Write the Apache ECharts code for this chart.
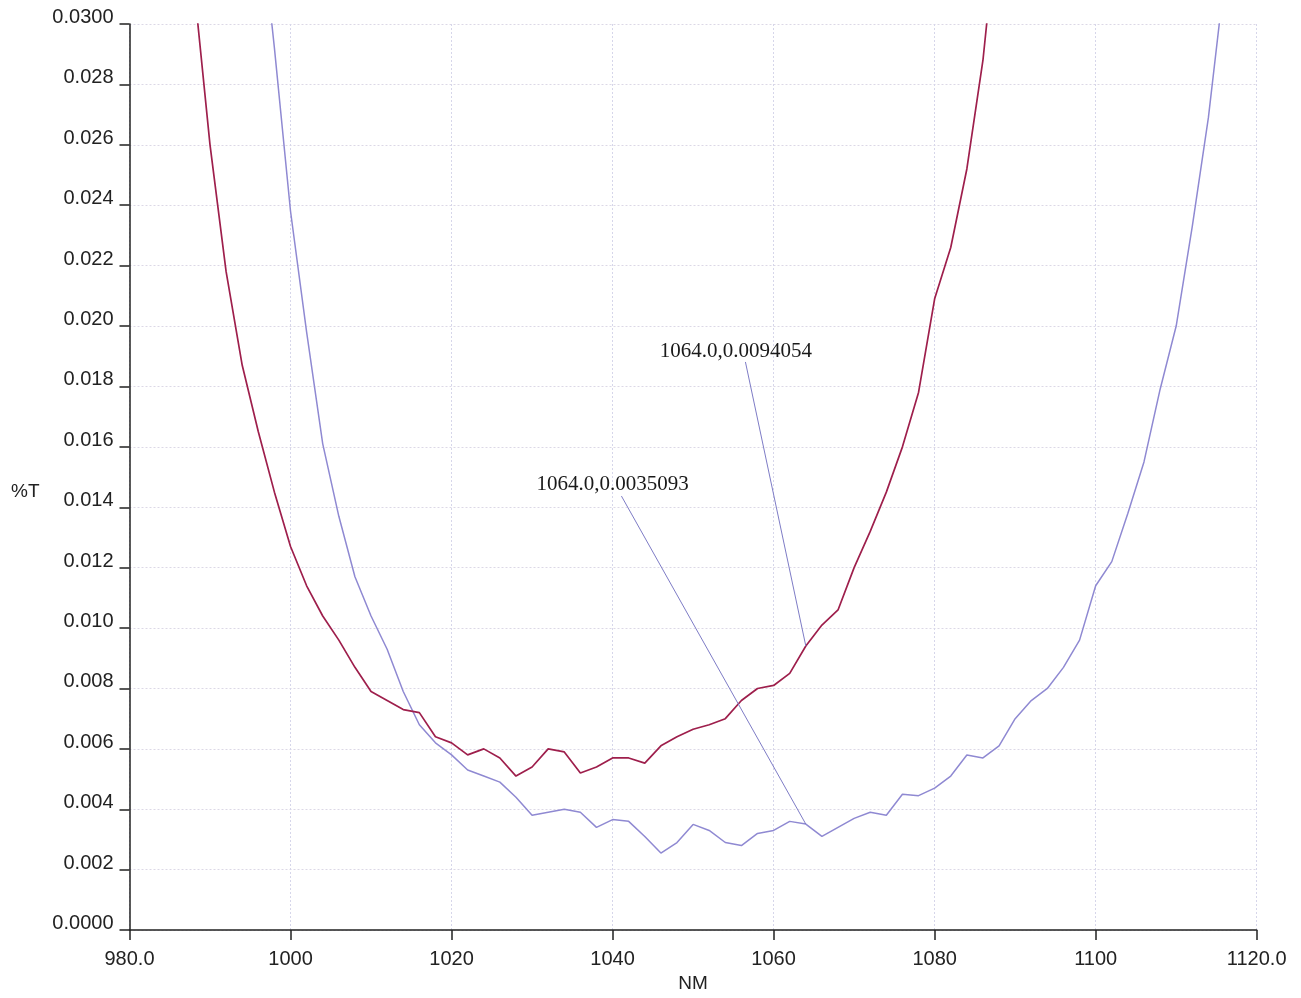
<!DOCTYPE html>
<html>
<head>
<meta charset="utf-8">
<script src="https://cdn.jsdelivr.net/npm/echarts@6/dist/echarts.min.js"></script>
<style>
html,body{margin:0;padding:0;background:#ffffff;}
#chart{width:1301px;height:998px;}
</style>
</head>
<body>
<div id="chart"></div>
<script>
// ---- data ----
const redNm = [988,990,992,994,996,998,1000,1002,1004,1006,1008,1010,1012,1014,1016,1018,1020,1022,1024,1026,1028,1030,1032,1034,1036,1038,1040,1042,1044,1046,1048,1050,1052,1054,1056,1058,1060,1062,1064,1066,1068,1070,1072,1074,1076,1078,1080,1082,1084,1086,1088];
const redT  = [0.0313,0.0260,0.0218,0.0187,0.0165,0.0145,0.0127,0.0114,0.0104,0.0096,0.0087,0.0079,0.0076,0.0073,0.0072,0.0064,0.0062,0.0058,0.0060,0.0057,0.0051,0.0054,0.0060,0.0059,0.0052,0.0054,0.0057,0.0057,0.00553,0.0061,0.0064,0.00665,0.0068,0.0070,0.0076,0.0080,0.0081,0.0085,0.0094054,0.0101,0.0106,0.0120,0.0132,0.0145,0.0160,0.0178,0.0209,0.0226,0.0252,0.0288,0.0340];
const blueNm = [996,998,1000,1002,1004,1006,1008,1010,1012,1014,1016,1018,1020,1022,1024,1026,1028,1030,1032,1034,1036,1038,1040,1042,1044,1046,1048,1050,1052,1054,1056,1058,1060,1062,1064,1066,1068,1070,1072,1074,1076,1078,1080,1082,1084,1086,1088,1090,1092,1094,1096,1098,1100,1102,1104,1106,1108,1110,1112,1114,1116];
const blueT  = [0.0342,0.0292,0.0238,0.0198,0.0161,0.0137,0.0117,0.0104,0.0093,0.0079,0.0068,0.0062,0.0058,0.0053,0.0051,0.0049,0.0044,0.0038,0.0039,0.0040,0.0039,0.0034,0.00366,0.0036,0.0031,0.00255,0.0029,0.0035,0.0033,0.0029,0.0028,0.0032,0.0033,0.0036,0.0035093,0.0031,0.0034,0.0037,0.0039,0.0038,0.0045,0.00445,0.0047,0.0051,0.0058,0.0057,0.0061,0.0070,0.0076,0.0080,0.0087,0.0096,0.0114,0.0122,0.0138,0.0155,0.0179,0.0200,0.0233,0.0269,0.0315];
const xTicks = {min: 980, max: 1120, step: 20};
const yTicks = {min: 0, max: 0.03, step: 0.002};
// annotated points [nm, %T]
const redMarked = [1064.0, 0.0094054];
const blueMarked = [1064.0, 0.0035093];

// ---- annotation placement (data units) ----
const redLabelAt = [1055.3, 0.01916], redLeaderFrom = [1056.5, 0.01881];
const blueLabelAt = [1040.0, 0.01476], blueLeaderFrom = [1041.1, 0.01437];

const zip = (a, b) => a.map((v, i) => [v, b[i]]);
const fmtPt = p => p[0].toFixed(1) + ',' + p[1].toFixed(7);

const leaderStyle = {color: '#7e7cc6', width: 1, type: 'solid'};
const annoText = {fontFamily: '"Liberation Serif", "Times New Roman", serif', fontSize: 21, color: '#1a1a1a'};

function annotation(labelAt, from, pt) {
  return {
    markLine: {
      silent: true, symbol: 'none', animation: false,
      lineStyle: leaderStyle, label: {show: false},
      data: [[{coord: from}, {coord: pt}]]
    },
    markPoint: {
      silent: true, animation: false, symbol: 'circle', symbolSize: 0,
      itemStyle: {color: 'transparent'},
      data: [{coord: labelAt, value: fmtPt(pt),
        label: Object.assign({show: true, position: 'inside', formatter: fmtPt(pt)}, annoText)}]
    }
  };
}

const chart = echarts.init(document.getElementById('chart'), null, {renderer: 'canvas'});
const axisFont = {fontFamily: '"Liberation Sans", Arial, sans-serif', fontSize: 20, color: '#222'};
chart.setOption({
  backgroundColor: '#ffffff',
  animation: false,
  grid: {left: 129.5, right: 44.3, top: 24, bottom: 66.5, containLabel: false},
  xAxis: {
    type: 'value', min: xTicks.min, max: xTicks.max, interval: xTicks.step,
    name: 'NM', nameLocation: 'middle', nameGap: 40,
    nameTextStyle: Object.assign({}, axisFont, {fontSize: 19}),
    axisLine: {show: true, onZero: false, lineStyle: {color: '#222', width: 1.5}},
    axisTick: {show: true, inside: false, length: 10, lineStyle: {color: '#222', width: 1.5}},
    axisLabel: Object.assign({}, axisFont, {margin: 19,
      formatter: v => (v === xTicks.min || v === xTicks.max) ? v.toFixed(1) : String(v)}),
    splitLine: {show: true, lineStyle: {color: '#d6d6ea', width: 1, type: [2, 2]}}
  },
  yAxis: {
    type: 'value', min: yTicks.min, max: yTicks.max, interval: yTicks.step,
    name: '%T', nameLocation: 'middle', nameRotate: 0, nameGap: 90,
    nameTextStyle: Object.assign({}, axisFont, {fontSize: 19, verticalAlign: 'top', lineHeight: 30}),
    axisLine: {show: true, onZero: false, lineStyle: {color: '#222', width: 1.5}},
    axisTick: {show: true, inside: false, length: 10, lineStyle: {color: '#222', width: 1.5}},
    axisLabel: Object.assign({}, axisFont, {margin: 16, verticalAlign: 'bottom', lineHeight: 13,
      formatter: v => {
        const r = Math.round(v * 1e6) / 1e6;
        return (Math.abs(r - yTicks.min) < 1e-9 || Math.abs(r - yTicks.max) < 1e-9) ? r.toFixed(4) : r.toFixed(3);
      }}),
    splitLine: {show: true, lineStyle: {color: '#dcd8e6', width: 1, type: [2, 2]}}
  },
  series: [
    Object.assign({
      type: 'line', name: 'A', data: zip(redNm, redT), showSymbol: false, clip: true,
      lineStyle: {color: '#9e1f4c', width: 1.7}, itemStyle: {color: '#9e1f4c'}, z: 3
    }, annotation(redLabelAt, redLeaderFrom, redMarked)),
    Object.assign({
      type: 'line', name: 'B', data: zip(blueNm, blueT), showSymbol: false, clip: true,
      lineStyle: {color: '#8f89d2', width: 1.5}, itemStyle: {color: '#8f89d2'}, z: 2
    }, annotation(blueLabelAt, blueLeaderFrom, blueMarked))
  ]
});
</script>
</body>
</html>
